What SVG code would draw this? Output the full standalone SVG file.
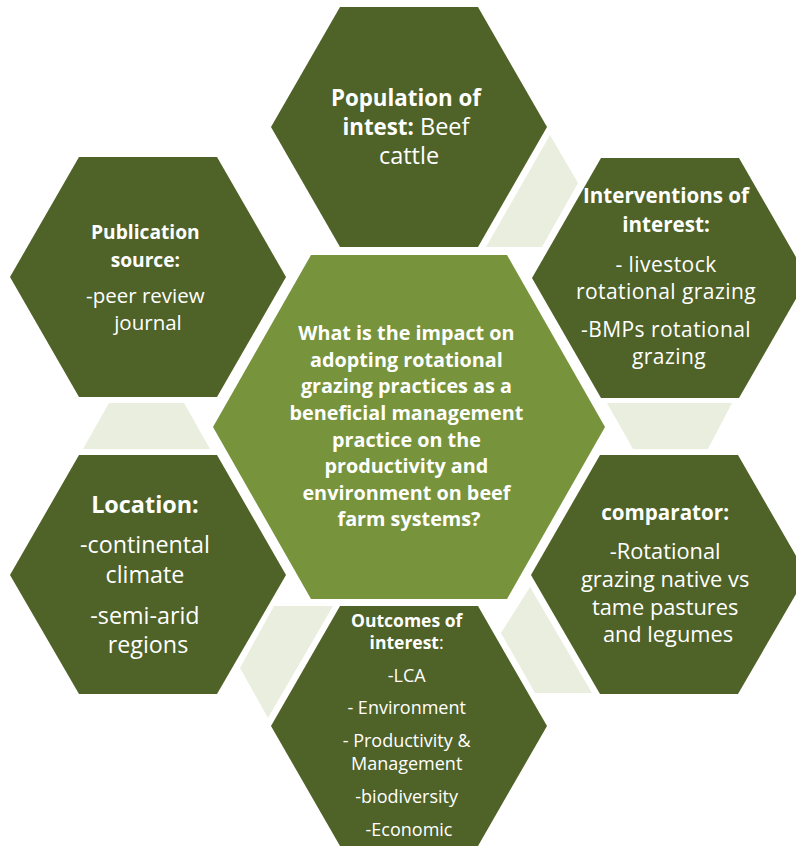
<svg xmlns="http://www.w3.org/2000/svg" width="796" height="846" viewBox="0 0 796 846">
  <style>
    .hex { fill: #4F6228; }
    .core { fill: #77933C; }
    .link { fill: #EAEEDF; }
    text { font-family: "Open Sans", Lato, "Liberation Sans", sans-serif; fill: #FFFFFF; text-anchor: middle; }
    .b { font-weight: bold; }
  </style>
  <rect width="796" height="846" fill="#FFFFFF"/>

  <!-- pale hexagon fragments sitting between the outer cells -->
  <g id="connectors">
    <polygon class="link" points="550,135 578,183 542,247 486,247"/>
    <polygon class="link" points="607,403 732,403 708,449 633,449"/>
    <polygon class="link" points="530,587 592,693 535,693 501,633"/>
    <polygon class="link" points="274,606 333,606 268,718 240,668"/>
    <polygon class="link" points="109,403 184,403 210,449 83,449"/>
  </g>

  <!-- central question -->
  <g id="question">
    <polygon class="core" points="213,427 311,255 507,255 605,427 507,599 311,599"/>
    <text class="b" font-size="19.8">
      <tspan x="409" y="340">What is the impact on</tspan>
      <tspan x="409" y="367">adopting rotational</tspan>
      <tspan x="409" y="393">grazing practices as a</tspan>
      <tspan x="409" y="420">beneficial management</tspan>
      <tspan x="409" y="447">practice on the</tspan>
      <tspan x="409" y="473">productivity and</tspan>
      <tspan x="409" y="500">environment on beef</tspan>
      <tspan x="409" y="526">farm systems?</tspan>
    </text>
  </g>

  <!-- population -->
  <g id="population">
    <polygon class="hex" points="271,127 340,7 478,7 547,127 478,247 340,247"/>
    <text font-size="23.5">
      <tspan x="409" y="106" class="b" font-size="22.3">Population of</tspan>
      <tspan x="409" y="135"><tspan class="b" font-size="22.3">intest:</tspan> Beef</tspan>
      <tspan x="409" y="164">cattle</tspan>
    </text>
  </g>

  <!-- publication source -->
  <g id="publication">
    <polygon class="hex" points="10,277 79,157 217,157 286,277 217,397 79,397"/>
    <text font-size="20.5">
      <tspan x="148" y="239" class="b" font-size="19.2">Publication</tspan>
      <tspan x="148" y="267" class="b" font-size="19.2">source:</tspan>
      <tspan x="148" y="303">-peer review</tspan>
      <tspan x="148" y="330">journal</tspan>
    </text>
  </g>

  <!-- interventions -->
  <g id="interventions">
    <polygon class="hex" points="532,278 601,158 739,158 808,278 739,398 601,398"/>
    <text font-size="21" letter-spacing="0.45">
      <tspan x="669" y="203" class="b" font-size="20.6" letter-spacing="0">Interventions of</tspan>
      <tspan x="669" y="232" class="b" font-size="20.6" letter-spacing="0">interest:</tspan>
      <tspan x="669" y="272">- livestock</tspan>
      <tspan x="669" y="299">rotational grazing</tspan>
      <tspan x="669" y="337">-BMPs rotational</tspan>
      <tspan x="669" y="364">grazing</tspan>
    </text>
  </g>

  <!-- location -->
  <g id="location">
    <polygon class="hex" points="10,575 79,455 217,455 286,575 217,694 79,694"/>
    <text font-size="23.3">
      <tspan x="148" y="513" class="b" font-size="23.4">Location:</tspan>
      <tspan x="148" y="553">-continental</tspan>
      <tspan x="148" y="583">climate</tspan>
      <tspan x="148" y="624">-semi-arid</tspan>
      <tspan x="148" y="653">regions</tspan>
    </text>
  </g>

  <!-- comparator -->
  <g id="comparator">
    <polygon class="hex" points="531,575 600,455 738,455 807,575 738,694 600,694"/>
    <text font-size="21.8">
      <tspan x="668" y="520" class="b" font-size="20.6">comparator:</tspan>
      <tspan x="668" y="559">-Rotational</tspan>
      <tspan x="668" y="587">grazing native vs</tspan>
      <tspan x="668" y="615">tame pastures</tspan>
      <tspan x="668" y="642">and legumes</tspan>
    </text>
  </g>

  <!-- outcomes -->
  <g id="outcomes">
    <polygon class="hex" points="271,726 340,606 478,606 547,726 478,846 340,846"/>
    <text font-size="18">
      <tspan x="409" y="627" class="b" font-size="17.5">Outcomes of</tspan>
      <tspan x="409" y="649"><tspan class="b" font-size="17.5">interest</tspan>:</tspan>
      <tspan x="409" y="682">-LCA</tspan>
      <tspan x="409" y="714">- Environment</tspan>
      <tspan x="409" y="747">- Productivity &amp;</tspan>
      <tspan x="409" y="770">Management</tspan>
      <tspan x="409" y="803">-biodiversity</tspan>
      <tspan x="409" y="836">-Economic</tspan>
    </text>
  </g>
</svg>
